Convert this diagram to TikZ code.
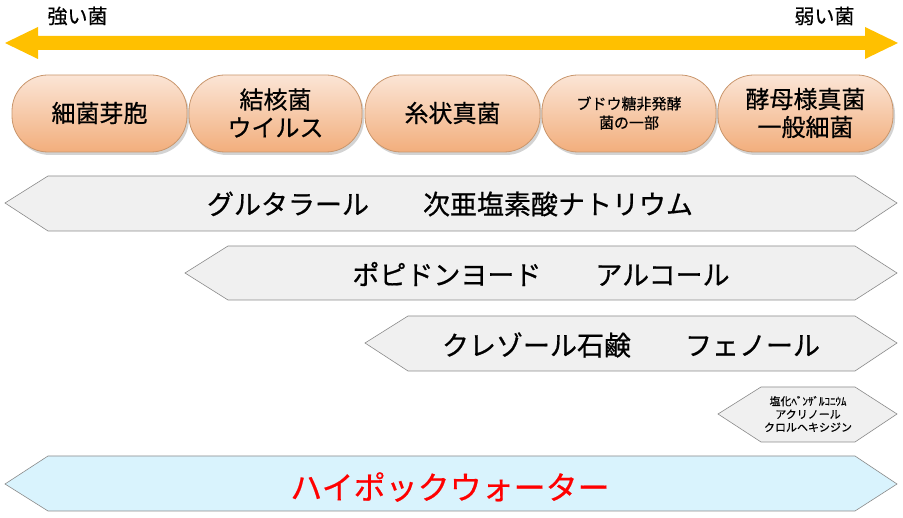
\documentclass[tikz,border=0pt]{standalone}
\usepackage{fontspec}
\setmainfont{Noto Sans CJK JP}[FakeBold=0.6,BoldFont=Noto Sans CJK JP]
\usetikzlibrary{shadows}
\definecolor{arr}{HTML}{FFC000}
\definecolor{pillb}{HTML}{C9966C}
\definecolor{hexb}{HTML}{8A8A8A}
\definecolor{ptop}{HTML}{FBE5D6}
\definecolor{pbot}{HTML}{F2AE7C}
\begin{document}
\begin{tikzpicture}[x=1pt,y=-1pt,
  pill/.style={rounded corners=36pt,draw=pillb,line width=0.8pt,top color=ptop,bottom color=pbot,drop shadow={shadow xshift=2pt,shadow yshift=-3pt,opacity=0.35}},
  lab/.style={font=\fontsize{24}{28}\selectfont,align=center},
  hexa/.style={draw=hexb,line width=0.6pt,fill=gray!12},
  hexl/.style={font=\fontsize{27}{30}\selectfont}]
\useasboundingbox (0,0) rectangle (903,518);
% arrow
\fill[arr] (5,43) -- (38,27) -- (38,36) -- (865,36) -- (865,27) -- (898,43) -- (865,59) -- (865,50) -- (38,50) -- (38,59) -- cycle;
\node[lab,anchor=west,font=\fontsize{20}{24}\selectfont] (strong) at (44,16) {強い菌};
\node[lab,anchor=east,font=\fontsize{20}{24}\selectfont] (weak) at (858,16) {弱い菌};
% pills
\foreach \a/\b/\t/\n in {12/187/細菌芽胞/p1,189/362/{結核菌\\ウイルス}/p2,365/540/糸状真菌/p3,718/893/{酵母様真菌\\一般細菌}/p5}{
  \draw[pill] (\a,75) rectangle (\b,152);
  \node[lab] (\n) at ({(\a+\b)/2},113) {\t};
}
\draw[pill] (542,75) rectangle (716,152);
\node[lab,font=\fontsize{15}{19}\selectfont] (p4) at (629,113) {ブドウ糖非発酵\\菌の一部};
% hex bands
\draw[hexa] (5,203) -- (48,176) -- (855,176) -- (897,203) -- (855,231) -- (48,231) -- cycle;
\node[hexl] (h1) at (450,204) {グルタラール\hspace{2em}次亜塩素酸ナトリウム};
\draw[hexa] (185,273) -- (228,246) -- (855,246) -- (897,273) -- (855,300) -- (228,300) -- cycle;
\node[hexl] (h2) at (541,274) {ポピドンヨード\hspace{2em}アルコール};
\draw[hexa] (365,343) -- (408,316) -- (855,316) -- (897,343) -- (855,371) -- (408,371) -- cycle;
\node[hexl] (h3) at (631,345) {クレゾール石鹸\hspace{2em}フェノール};
\draw[hexa] (718,414) -- (761,387) -- (855,387) -- (897,414) -- (855,442) -- (761,442) -- cycle;
\node[font=\fontsize{11}{13}\selectfont,align=center] (h4) at (808,414) {塩化ﾍﾞﾝｻﾞﾙｺﾆｳﾑ\\アクリノール\\クロルヘキシジン};
\draw[hexa,fill=cyan!15!white] (5,484) -- (48,456) -- (855,456) -- (897,484) -- (855,511) -- (48,511) -- cycle;
\node[font=\fontsize{32}{34}\selectfont,text=red] (h5) at (450,487) {ハイポックウォーター};
\end{tikzpicture}
\end{document}
